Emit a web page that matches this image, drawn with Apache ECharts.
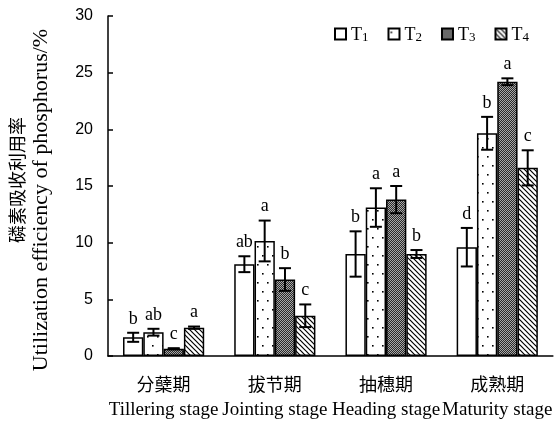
<!DOCTYPE html>
<html>
<head>
<meta charset="utf-8">
<script src="https://cdn.jsdelivr.net/npm/echarts@6/dist/echarts.min.js"></script>
<style>html,body{margin:0;padding:0;background:#fff}#c{width:555px;height:421px}</style>
</head>
<body>
<div id="c"></div>
<script>
const categoriesCn = ['分蘖期', '拔节期', '抽穗期', '成熟期'];
const categoriesEn = ['Tillering stage', 'Jointing stage', 'Heading stage', 'Maturity stage'];
const seriesNames = ['T1', 'T2', 'T3', 'T4'];
const T1 = [1.65, 8.1, 9.0, 9.6];
const T2 = [2.1, 10.15, 13.1, 19.65];
const T3 = [0.64, 6.75, 13.8, 24.2];
const T4 = [2.5, 3.55, 9.0, 16.6];
const T1err = [0.4, 0.7, 2.0, 1.7];
const T2err = [0.3, 1.8, 1.7, 1.45];
const T3err = [0.05, 1.0, 1.2, 0.3];
const T4err = [0.1, 1.0, 0.35, 1.55];
const T1sig = ['b', 'ab', 'b', 'd'];
const T2sig = ['ab', 'a', 'a', 'b'];
const T3sig = ['c', 'b', 'a', 'a'];
const T4sig = ['a', 'c', 'b', 'c'];
const yMin = 0, yMax = 30, yStep = 5;

const values = [T1, T2, T3, T4];
const errs = [T1err, T2err, T3err, T4err];
const sigs = [T1sig, T2sig, T3sig, T4sig];

function tile(w, h, draw) {
  const c = document.createElement('canvas');
  c.width = w; c.height = h;
  const ctx = c.getContext('2d');
  ctx.fillStyle = '#fff'; ctx.fillRect(0, 0, w, h);
  draw(ctx);
  return { image: c, repeat: 'repeat' };
}
const fillT1 = '#ffffff';
const fillT2 = tile(10, 18, ctx => {
  ctx.fillStyle = '#000';
  ctx.fillRect(2, 3, 1.6, 1.6);
  ctx.fillRect(7, 12, 1.6, 1.6);
});
const fillT3 = tile(2, 2, ctx => {
  ctx.fillStyle = '#2a2a2a';
  ctx.fillRect(0, 0, 2, 2);
  ctx.fillStyle = '#a8a8a8';
  ctx.fillRect(0, 0, 1, 1);
  ctx.fillRect(1, 1, 1, 1);
});
const fillT4 = tile(5, 5, ctx => {
  ctx.strokeStyle = '#000';
  ctx.lineWidth = 1.2;
  for (const k of [-5, 0, 5]) {
    ctx.beginPath();
    ctx.moveTo(k - 1, -1);
    ctx.lineTo(k + 6, 6);
    ctx.stroke();
  }
});
const fills = [fillT1, fillT2, fillT3, fillT4];

const gapRatio = 0.27;
const serif = '"Liberation Serif", "Times New Roman", serif';

const barSeries = seriesNames.map((n, i) => ({
  name: n,
  type: 'bar',
  barGap: '0%',
  barCategoryGap: (gapRatio * 100) + '%',
  data: values[i],
  itemStyle: { color: fills[i], borderColor: '#000', borderWidth: 1.5 },
  z: 2
}));

const errData = [];
for (let s = 0; s < 4; s++) {
  for (let c = 0; c < categoriesCn.length; c++) {
    errData.push([c, s, values[s][c], errs[s][c]]);
  }
}

const errSeries = {
  type: 'custom',
  z: 5,
  silent: true,
  data: errData,
  renderItem: function (params, api) {
    const cat = api.value(0), si = api.value(1), v = api.value(2), e = api.value(3);
    const band = api.size([1, 0])[0];
    const bw = band * (1 - gapRatio) / 4;
    const off = (si - 1.5) * bw;
    const top = api.coord([cat, v + e]);
    const bot = api.coord([cat, Math.max(v - e, 0)]);
    const x = top[0] + off;
    const cap = 6;
    const ls = { stroke: '#000', lineWidth: 2 };
    return {
      type: 'group',
      children: [
        { type: 'line', shape: { x1: x, y1: top[1], x2: x, y2: bot[1] }, style: ls },
        { type: 'line', shape: { x1: x - cap, y1: top[1], x2: x + cap, y2: top[1] }, style: ls },
        { type: 'line', shape: { x1: x - cap, y1: bot[1], x2: x + cap, y2: bot[1] }, style: ls },
        { type: 'text', style: { text: sigs[si][cat], x: x, y: top[1] - 5, align: 'center', verticalAlign: 'bottom', font: '18px ' + serif, fill: '#000' } }
      ]
    };
  }
};

const chart = echarts.init(document.getElementById('c'));
chart.setOption({
  animation: false,
  backgroundColor: '#fff',
  grid: { left: 108, top: 16, width: 448, bottom: 65, containLabel: false },
  legend: {
    data: seriesNames,
    left: 329, top: 16,
    itemWidth: 11, itemHeight: 11, itemGap: 19,
    icon: 'rect',
    formatter: n => '{n|T}{s|' + n.slice(1) + '}',
    textStyle: {
      fontFamily: serif, color: '#000',
      rich: {
        n: { fontSize: 18, fontFamily: serif, color: '#000', verticalAlign: 'bottom', lineHeight: 20 },
        s: { fontSize: 13, fontFamily: serif, color: '#000', verticalAlign: 'bottom', padding: [10, 0, 0, 0], lineHeight: 20 }
      }
    }
  },
  xAxis: {
    type: 'category',
    data: categoriesCn.map((c, i) => c + '|' + categoriesEn[i]),
    axisLine: { lineStyle: { color: '#000', width: 1.5 } },
    axisTick: { inside: true, length: 5, lineStyle: { color: '#000', width: 1.5 } },
    axisLabel: {
      interval: 0, margin: 15, color: '#000',
      formatter: v => { const p = v.split('|'); return '{cn|' + p[0] + '}\n{en|' + p[1] + '}'; },
      rich: {
        cn: { fontSize: 18, fontFamily: '"Noto Sans CJK SC"', color: '#000', lineHeight: 26 },
        en: { fontSize: 19, fontFamily: serif, color: '#000', lineHeight: 26 }
      }
    },
    splitLine: { show: false }
  },
  yAxis: {
    type: 'value', min: yMin, max: yMax, interval: yStep,
    axisLine: { show: true, lineStyle: { color: '#000', width: 1.5 } },
    axisTick: { show: true, inside: true, length: 5, lineStyle: { color: '#000', width: 1.5 } },
    axisLabel: { fontSize: 16, fontFamily: '"Liberation Sans", Arial, sans-serif', color: '#000', margin: 15 },
    splitLine: { show: false }
  },
  graphic: [
    { type: 'text', x: 17, y: 180, rotation: Math.PI / 2,
      style: { text: '磷素吸收利用率', font: '18px "Noto Sans CJK SC"', fill: '#000', align: 'center', verticalAlign: 'middle' } },
    { type: 'text', x: 41, y: 200, rotation: Math.PI / 2,
      style: { text: 'Utilization efficiency of phosphorus/%', font: '22px ' + serif, fill: '#000', align: 'center', verticalAlign: 'middle' } }
  ],
  series: barSeries.concat([errSeries])
});
</script>
</body>
</html>
